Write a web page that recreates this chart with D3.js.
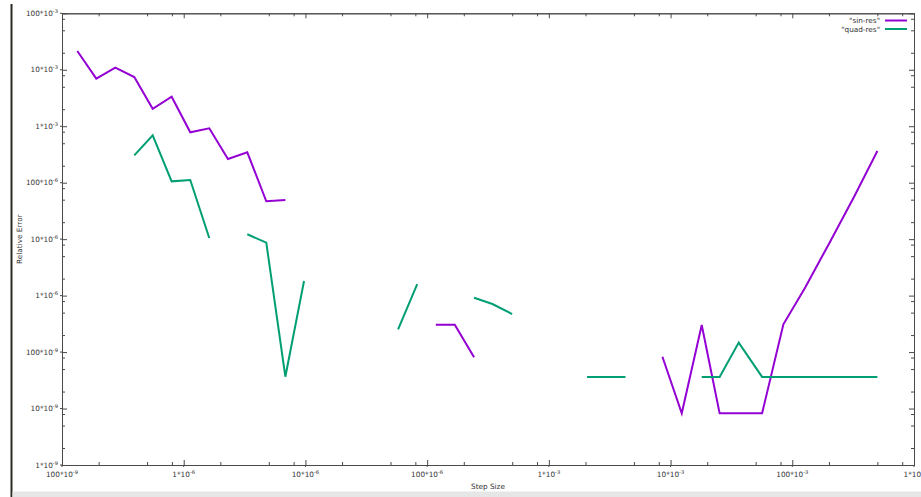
<!DOCTYPE html>
<html>
<head>
<meta charset="utf-8">
<script src="https://cdn.jsdelivr.net/npm/d3@7"></script>
<style>
  html, body { margin: 0; padding: 0; background: #fff; }
  svg { display: block; }
  text { font-family: "DejaVu Sans", sans-serif; fill: #333; }
</style>
</head>
<body>
<svg id="chart" width="921" height="497"></svg>
<script>
// ---- data ----
const stepSizes = [1.336e-7, 1.913e-7, 2.742e-7, 3.926e-7, 5.56e-7, 7.96e-7, 1.132e-6, 1.622e-6,
  2.31e-6, 3.33e-6, 4.77e-6, 6.84e-6, 9.74e-6, 2.0e-5, 5.77e-5, 8.29e-5, 1.178e-4, 1.687e-4,
  2.43e-4, 3.44e-4, 4.99e-4, 1.0e-3, 2.06e-3, 2.95e-3, 4.26e-3, 6.0e-3, 8.57e-3, 1.236e-2,
  1.803e-2, 2.53e-2, 3.63e-2, 5.65e-2, 8.45e-2, 0.127, 0.205, 0.322, 0.5];

const sinRes = [2.15e-2, 6.95e-3, 1.088e-2, 7.44e-3, 2.04e-3, 3.33e-3, 7.8e-4, 9.18e-4,
  2.63e-4, 3.45e-4, 4.68e-5, 4.93e-5, null, null, null, null, 3.05e-7, 3.05e-7,
  8.07e-8, null, null, null, null, null, null, null, 8.28e-8, 8.22e-9,
  3.01e-7, 8.22e-9, 8.22e-9, 8.22e-9, 3.10e-7, 1.36e-6, 9.12e-6, 5.65e-5, 3.64e-4];

const quadRes = [null, null, null, 3.05e-4, 6.90e-4, 1.057e-4, 1.115e-4, 1.047e-5,
  null, 1.22e-5, 8.65e-6, 3.66e-8, 1.81e-6, null, 2.53e-7, 1.60e-6, null, null,
  9.18e-7, 7.10e-7, 4.72e-7, null, 3.61e-8, 3.61e-8, 3.61e-8, null, null, null,
  3.63e-8, 3.63e-8, 1.47e-7, 3.63e-8, 3.63e-8, 3.63e-8, 3.63e-8, 3.63e-8, 3.63e-8];

const seriesNames = ['"sin-res"', '"quad-res"'];
const seriesColors = ["#9400d3", "#009e73"];

const xTickValues = [1e-7, 1e-6, 1e-5, 1e-4, 1e-3, 1e-2, 1e-1, 1];
const xTickLabels = ["100*10^-9", "1*10^-6", "10*10^-6", "100*10^-6", "1*10^-3", "10*10^-3", "100*10^-3", "1*10^0"];
const yTickValues = [1e-9, 1e-8, 1e-7, 1e-6, 1e-5, 1e-4, 1e-3, 1e-2, 1e-1];
const yTickLabels = ["1*10^-9", "10*10^-9", "100*10^-9", "1*10^-6", "10*10^-6", "100*10^-6", "1*10^-3", "10*10^-3", "100*10^-3"];
const minorMultipliers = [2, 5, 8];

const xTitle = "Step Size";
const yTitle = "Relative Error";

// ---- layout ----
const L = 62, R = 914, T = 13.3, B = 465;
const svg = d3.select("#chart");

// window frame remnants
svg.append("rect").attr("x", 10.5).attr("y", 4).attr("width", 2).attr("height", 493).attr("fill", "#2a2a22");
svg.append("rect").attr("x", 12.5).attr("y", 491.5).attr("width", 909).attr("height", 6).attr("fill", "#e6e6e6");

const x = d3.scaleLog().domain([1e-7, 1]).range([L, R]);
const y = d3.scaleLog().domain([1e-9, 1e-1]).range([B, T]);

const axisColor = "#4a4a4a";

// minor ticks
function minorTicks(values) {
  const out = [];
  values.slice(0, -1).forEach(v => minorMultipliers.forEach(m => out.push(v * m)));
  return out;
}
const xMinor = minorTicks(xTickValues);
const yMinor = minorTicks(yTickValues);

const g = svg.append("g");
// bottom axis
const xb = d3.axisBottom(x).tickValues(xTickValues).tickSizeInner(-5).tickSizeOuter(0).tickFormat("");
const xbm = d3.axisBottom(x).tickValues(xMinor).tickSizeInner(-3).tickSizeOuter(0).tickFormat("");
const xt = d3.axisTop(x).tickValues(xTickValues).tickSizeInner(-5).tickSizeOuter(0).tickFormat("");
const xtm = d3.axisTop(x).tickValues(xMinor).tickSizeInner(-3).tickSizeOuter(0).tickFormat("");
const yl = d3.axisLeft(y).tickValues(yTickValues).tickSizeInner(-5).tickSizeOuter(0).tickFormat("");
const ylm = d3.axisLeft(y).tickValues(yMinor).tickSizeInner(-3).tickSizeOuter(0).tickFormat("");
const yr = d3.axisRight(y).tickValues(yTickValues).tickSizeInner(-5).tickSizeOuter(0).tickFormat("");
const yrm = d3.axisRight(y).tickValues(yMinor).tickSizeInner(-3).tickSizeOuter(0).tickFormat("");

[[xb, `translate(0,${B})`], [xbm, `translate(0,${B})`], [xt, `translate(0,${T})`], [xtm, `translate(0,${T})`],
 [yl, `translate(${L},0)`], [ylm, `translate(${L},0)`], [yr, `translate(${R},0)`], [yrm, `translate(${R},0)`]]
  .forEach(([ax, tr]) => {
    const a = g.append("g").attr("transform", tr).call(ax);
    a.selectAll("line").attr("stroke", axisColor);
    a.select(".domain").attr("stroke", axisColor);
  });

// small outward stubs for major ticks on bottom/left
g.selectAll(".xstub").data(xTickValues).join("line")
  .attr("x1", d => x(d)).attr("x2", d => x(d)).attr("y1", B).attr("y2", B + 2).attr("stroke", axisColor);
g.selectAll(".ystub").data(yTickValues).join("line")
  .attr("y1", d => y(d)).attr("y2", d => y(d)).attr("x1", L).attr("x2", L - 2).attr("stroke", axisColor);

// tick labels with superscript exponent
function labelText(sel, s) {
  const [base, exp] = s.split("^");
  sel.append("tspan").text(base);
  sel.append("tspan").attr("dy", -3).attr("font-size", "5.2px").text(exp);
}
xTickValues.forEach((v, i) => {
  const t = svg.append("text").attr("x", x(v)).attr("y", B + 12).attr("text-anchor", "middle")
    .attr("font-size", "7.3px");
  labelText(t, xTickLabels[i]);
});
yTickValues.forEach((v, i) => {
  const t = svg.append("text").attr("x", L - 4).attr("y", y(v) + 2.5).attr("text-anchor", "end")
    .attr("font-size", "7.3px");
  labelText(t, yTickLabels[i]);
});

// titles
svg.append("text").attr("x", (L + R) / 2).attr("y", 489).attr("text-anchor", "middle")
  .attr("font-size", "7.3px").text(xTitle);
svg.append("text").attr("transform", `translate(22,${(T + B) / 2}) rotate(-90)`).attr("text-anchor", "middle")
  .attr("font-size", "7.3px").text(yTitle);

// lines
const series = [sinRes, quadRes];
const line = d3.line()
  .defined(d => d[1] != null)
  .x(d => x(d[0]))
  .y(d => y(d[1]));
series.forEach((vals, i) => {
  const pts = stepSizes.map((s, j) => [s, vals[j]]);
  svg.append("path").datum(pts).attr("d", line)
    .attr("fill", "none").attr("stroke", seriesColors[i]).attr("stroke-width", 2)
    .attr("stroke-linejoin", "miter");
});

// legend
seriesNames.forEach((name, i) => {
  const yy = 20.5 + i * 8.5;
  svg.append("text").attr("x", 880).attr("y", yy + 2.5).attr("text-anchor", "end")
    .attr("font-size", "7.3px").text(name);
  svg.append("line").attr("x1", 885).attr("x2", 907).attr("y1", yy).attr("y2", yy)
    .attr("stroke", seriesColors[i]).attr("stroke-width", 2);
});
</script>
</body>
</html>
